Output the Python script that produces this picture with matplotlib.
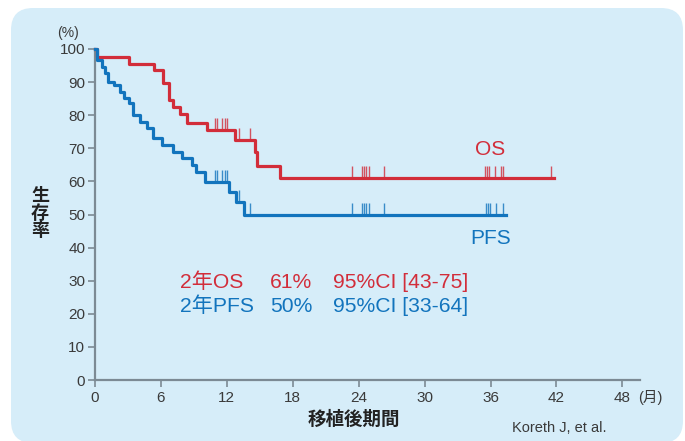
import numpy as np
import matplotlib
matplotlib.use('Agg')
import matplotlib.pyplot as plt
from matplotlib.patches import FancyBboxPatch

plt.rcParams['font.family'] = ['Liberation Sans', 'Noto Sans CJK JP']

# Kaplan-Meier steps (months, % surviving after the event)
os_t = [0, 0.15, 3.05, 5.4, 6.2, 6.7, 7.1, 7.7, 8.4, 10.2, 12.75, 14.55, 14.7, 16.8, 41.75]
os_s = [100, 97.6, 95.6, 93.6, 89.7, 84.6, 82.5, 80.5, 77.6, 75.5, 72.5, 68.8, 64.7, 61, 61]
os_cens = [10.9, 11.1, 11.6, 11.85, 12.05, 13.15, 14.1, 23.4, 24.3, 24.5, 24.7, 24.9, 26.3,
           35.5, 35.67, 35.85, 36.4, 36.94, 37.13, 41.5]

pfs_t = [0, 0.15, 0.6, 0.9, 1.2, 1.7, 2.3, 2.6, 3.1, 3.5, 4.1, 4.7, 5.3, 6.1, 7.1, 7.9,
         8.8, 9.2, 10.0, 12.15, 12.85, 13.57, 37.43]
pfs_s = [100, 96.7, 94.7, 92.6, 90.1, 89.1, 87.1, 85.1, 83.6, 80.1, 78.0, 76.0, 73.0, 71.0,
         69.0, 67.0, 65.0, 62.9, 59.9, 56.9, 53.9, 50, 50]
pfs_cens = [10.9, 11.1, 11.6, 11.85, 12.05, 13.15, 14.1, 23.4, 24.3, 24.5, 24.7, 24.9, 26.3,
            35.58, 35.76, 35.97, 36.49, 37.09]

x_ticks = [0, 6, 12, 18, 24, 30, 36, 42, 48]
y_ticks = [0, 10, 20, 30, 40, 50, 60, 70, 80, 90, 100]

red = '#d22d3a'
blue = '#1274bd'
grey = '#7c8a94'
txt = '#3a3a3a'
panel = '#d6edf9'

fig = plt.figure(figsize=(6.85, 4.41), dpi=100)

# rounded background panel, drawn in pixel units
bg = fig.add_axes([0, 0, 1, 1])
bg.set_xlim(0, 685)
bg.set_ylim(0, 441)
bg.axis('off')
bg.add_patch(FancyBboxPatch((11, -2), 672, 435, boxstyle='round,pad=0,rounding_size=22',
                            fc=panel, ec='none'))

ax = fig.add_axes([95 / 685, 61 / 441, 545 / 685, 331 / 441])
ax.patch.set_alpha(0)
ax.set_xlim(0, 49.6)
ax.set_ylim(0, 100)


def surv_at(t, times, surv):
    i = np.searchsorted(times, t, side='right') - 1
    return surv[i]


for times, surv, cens, col in [(os_t, os_s, os_cens, red), (pfs_t, pfs_s, pfs_cens, blue)]:
    ax.step(times, surv, where='post', color=col, lw=2.3, clip_on=False, zorder=3)
    lv = [surv_at(c, times, surv) for c in cens]
    ax.vlines(cens, lv, np.array(lv) + 3.6, color=col, lw=1.0, alpha=0.8, zorder=2)

for s in ['top', 'right']:
    ax.spines[s].set_visible(False)
for s in ['left', 'bottom']:
    ax.spines[s].set_color(grey)
    ax.spines[s].set_linewidth(1.6)
ax.spines['left'].set_bounds(0, 100)

ax.set_xticks(x_ticks)
ax.set_yticks(y_ticks)
ax.tick_params(colors=grey, labelcolor=txt, labelsize=11, length=5, width=1.2)
ax.tick_params(axis='x', pad=3)
ax.tick_params(axis='y', pad=2)

ax.text(-2.5, 104.8, '(%)', fontsize=10, color=txt, ha='center', va='center')
ax.text(49.4, -5.4, '(月)', fontsize=10.5, color=txt, ha='left', va='center', clip_on=False)
fig.text(40 / 685, 1 - 214 / 441, '生\n存\n率', fontsize=13, color='#222222',
         ha='center', va='center', linespacing=1.0, fontweight='bold')
fig.text(354 / 685, 1 - 420 / 441, '移植後期間', fontsize=13.3, color='#222222',
         ha='center', va='center', fontweight='bold')
fig.text(559 / 685, 1 - 428 / 441, 'Koreth J, et al.', fontsize=10.5, color=txt,
         ha='center', va='center')

ax.text(36.0, 69.5, 'OS', fontsize=15, color=red, ha='center', va='center')
ax.text(36.0, 42.6, 'PFS', fontsize=15, color=blue, ha='center', va='center')

rows = [('2年OS', '61%', '95%CI [43-75]', red, 29.5),
        ('2年PFS', '50%', '95%CI [33-64]', blue, 22.3)]
for a, b, c, col, yv in rows:
    ax.text(7.7, yv, a, fontsize=15.2, color=col, va='center')
    ax.text(15.9, yv, b, fontsize=15.2, color=col, va='center')
    ax.text(21.7, yv, c, fontsize=15.2, color=col, va='center')

fig.savefig('out.png', dpi=100)
